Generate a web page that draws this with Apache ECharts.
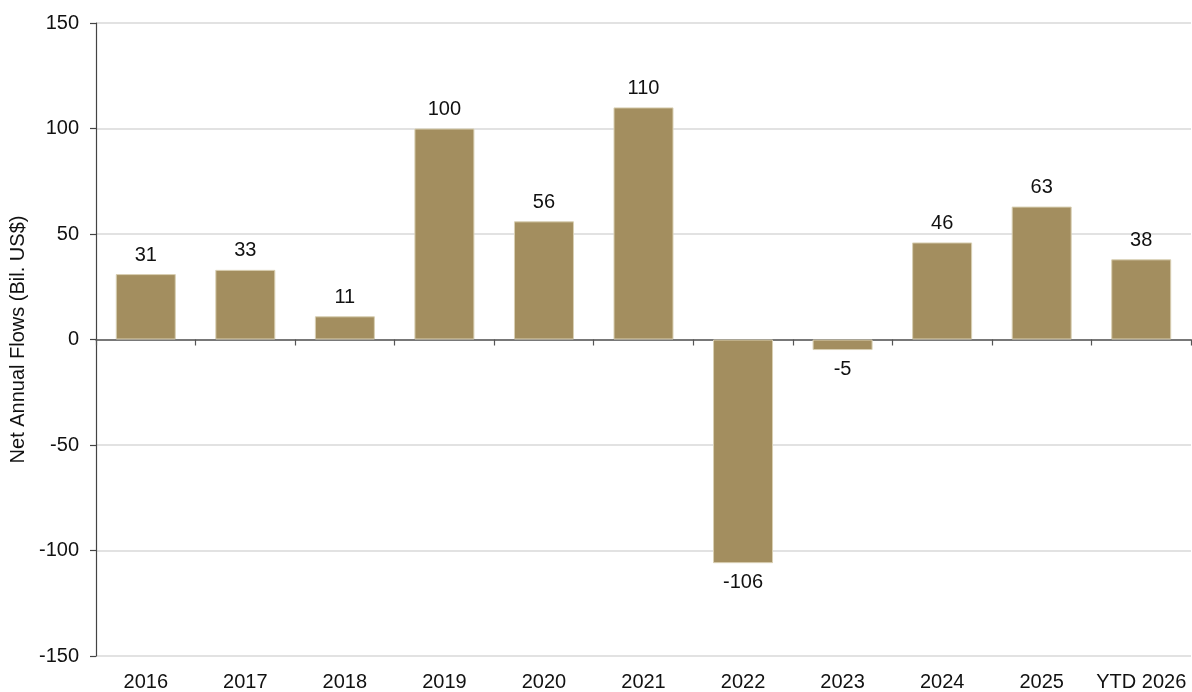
<!DOCTYPE html>
<html>
<head>
<meta charset="utf-8">
<script src="https://cdn.jsdelivr.net/npm/echarts@6/dist/echarts.min.js"></script>
<style>
  html, body { margin: 0; padding: 0; background: #fff; }
  #chart { width: 1192px; height: 692px; }
</style>
</head>
<body>
<div id="chart"></div>
<script>
// Net annual flows by year, billions of US dollars
const categories = ['2016', '2017', '2018', '2019', '2020', '2021', '2022', '2023', '2024', '2025', 'YTD 2026'];
const flows = [31, 33, 11, 100, 56, 110, -106, -5, 46, 63, 38];
const yTicks = [-150, -100, -50, 0, 50, 100, 150];

const FONT = 'Liberation Sans, Arial, Helvetica, sans-serif';
const chart = echarts.init(document.getElementById('chart'), null, { renderer: 'canvas' });

chart.setOption({
  animation: false,
  grid: { left: 96, right: 1, top: 23, bottom: 33, containLabel: false },
  xAxis: [
    {
      // axis line through zero with boundary ticks
      type: 'category',
      data: categories,
      boundaryGap: true,
      axisLine: { show: true, onZero: true, lineStyle: { color: '#555', width: 1.5 } },
      axisTick: { show: true, length: 6, inside: false, lineStyle: { color: '#555', width: 1.2 } },
      axisLabel: { show: false },
      splitLine: { show: false }
    },
    {
      // category labels along the bottom of the plot
      type: 'category',
      data: categories,
      position: 'bottom',
      boundaryGap: true,
      axisLine: { show: false, onZero: false },
      axisTick: { show: false },
      axisLabel: { show: true, interval: 0, color: '#111', fontSize: 20, fontFamily: FONT, margin: 16 },
      splitLine: { show: false }
    }
  ],
  yAxis: {
    type: 'value',
    min: yTicks[0],
    max: yTicks[yTicks.length - 1],
    interval: 50,
    name: 'Net Annual Flows (Bil. US$)',
    nameLocation: 'middle',
    nameGap: 64,
    nameRotate: 90,
    nameTextStyle: { color: '#111', fontSize: 20, fontFamily: FONT },
    axisLine: { show: true, lineStyle: { color: '#444', width: 1.2 } },
    axisTick: { show: true, length: 6, lineStyle: { color: '#444', width: 1.2 } },
    axisLabel: { color: '#111', fontSize: 20, fontFamily: FONT, margin: 17 },
    splitLine: { show: true, lineStyle: { color: '#d9d9d9', width: 1.5 } }
  },
  series: [
    {
      type: 'bar',
      xAxisIndex: 0,
      // negative bars carry their label below the bar end
      data: flows.map(v => v < 0 ? { value: v, label: { position: 'bottom' } } : v),
      barWidth: 60,
      itemStyle: { color: '#A38E5F', borderColor: '#D9D0B4', borderWidth: 1 },
      label: {
        show: true,
        position: 'top',
        distance: 9,
        color: '#111',
        fontSize: 20,
        fontFamily: FONT,
        formatter: p => String(p.value)
      }
    }
  ]
});
</script>
</body>
</html>
